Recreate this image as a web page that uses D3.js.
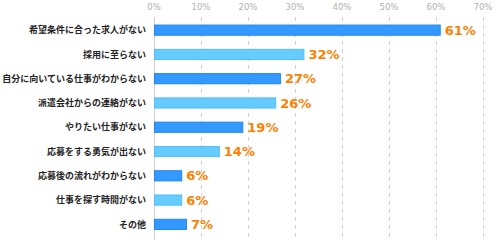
<!DOCTYPE html>
<html>
<head>
<meta charset="utf-8">
<script src="https://cdn.jsdelivr.net/npm/d3@7"></script>
<style>
  body { margin: 0; background: #fff; }
  svg { display: block; }
</style>
</head>
<body>
<div id="chart"></div>
<script>
// Reasons for not finding a job – horizontal bar chart

const categories = [
    '希望条件に合った求人がない',
    '採用に至らない',
    '自分に向いている仕事がわからない',
    '派遣会社からの連絡がない',
    'やりたい仕事がない',
    '応募をする勇気が出ない',
    '応募後の流れがわからない',
    '仕事を探す時間がない',
    'その他'
];
const values = [61, 32, 27, 26, 19, 14, 6, 6, 7];
const ticks = [0, 10, 20, 30, 40, 50, 60, 70];

const width = 500, height = 244;
const font = '"Noto Sans CJK JP", "Noto Sans", sans-serif';

const svg = d3.select('#chart')
    .append('svg')
    .attr('width', width)
    .attr('height', height);

const x = d3.scaleLinear().domain([0, 70]).range([154, 483]);
const y = d3.scaleBand()
    .domain(categories)
    .range([18, 236.5])
    .paddingInner(0.54)
    .paddingOuter(0.27);

// Grid lines
svg.selectAll('line.grid')
    .data(ticks)
    .join('line')
    .attr('class', 'grid')
    .attr('x1', d => Math.round(x(d)) + 0.5)
    .attr('x2', d => Math.round(x(d)) + 0.5)
    .attr('y1', 17)
    .attr('y2', 240)
    .attr('stroke', '#d0d0d0')
    .attr('stroke-width', 1)
    .attr('stroke-dasharray', d => d === 0 ? null : '4,4');

// Tick labels on top
svg.selectAll('text.tick')
    .data(ticks)
    .join('text')
    .attr('class', 'tick')
    .attr('x', d => x(d))
    .attr('y', 10)
    .attr('text-anchor', 'middle')
    .attr('fill', '#b0b0b0')
    .attr('font-size', '8.5px')
    .attr('font-family', '"DejaVu Sans", sans-serif')
    .text(d => d + '%');

// Bars
svg.selectAll('rect.bar')
    .data(values)
    .join('rect')
    .attr('class', 'bar')
    .attr('x', x(0) + 0.5)
    .attr('y', (d, i) => y(categories[i]) + 0.5)
    .attr('width', d => x(d) - x(0) - 1)
    .attr('height', y.bandwidth() - 1)
    .attr('fill', (d, i) => i % 2 === 0 ? '#3399ff' : '#66ccff')
    .attr('stroke', (d, i) => i % 2 === 0 ? '#1f86ef' : '#55bdf7')
    .attr('stroke-width', 1);

// Category labels
svg.selectAll('text.cat')
    .data(categories)
    .join('text')
    .attr('class', 'cat')
    .attr('x', 146)
    .attr('y', d => y(d) + y.bandwidth() / 2)
    .attr('dy', '0.35em')
    .attr('text-anchor', 'end')
    .attr('fill', '#222')
    .attr('font-size', '9px')
    .attr('font-weight', 'bold')
    .attr('font-family', font)
    .text(d => d);

// Value labels
svg.selectAll('text.val')
    .data(values)
    .join('text')
    .attr('class', 'val')
    .attr('x', d => x(d) + 4)
    .attr('y', (d, i) => y(categories[i]) + y.bandwidth() / 2)
    .attr('dy', '0.36em')
    .attr('fill', '#ff8000')
    .attr('font-size', '13px')
    .attr('font-weight', 'bold')
    .attr('font-family', '"DejaVu Sans", sans-serif')
    .text(d => d + '%');
</script>
</body>
</html>
